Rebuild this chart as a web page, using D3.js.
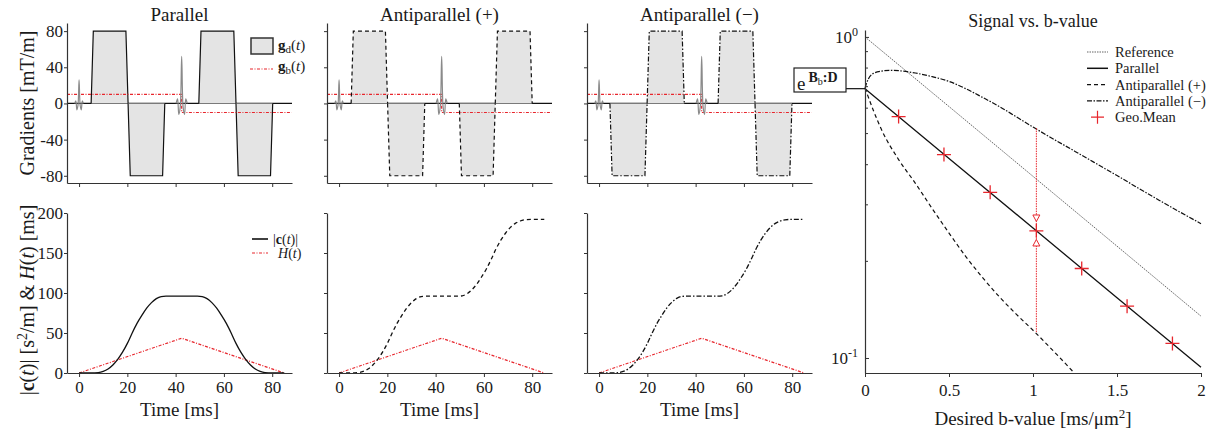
<!DOCTYPE html>
<html>
<head>
<meta charset="utf-8">
<script src="https://cdn.jsdelivr.net/npm/d3@7"></script>
<style>
body { margin: 0; background: #fff; }
text { font-family: "Liberation Serif", "Times New Roman", serif; fill: #1a1a1a; }
</style>
</head>
<body>
<svg id="fig" width="1210" height="432"></svg>
<script>
//Data: gradient waveforms-------------------------------------------------------
var panelNames = ["Parallel", "Antiparallel (+)", "Antiparallel (\u2212)"];
var lobeStarts = [[5, 20.3, 49.6, 65], [5, 20.1, 49.8, 64.7], [4.5, 19.9, 49.3, 64.6]];
var lobeEnds = [[20.3, 35.5, 65, 80.2], [20.1, 35.5, 64.7, 80], [19.9, 35.3, 64.6, 79.9]];
var lobeAmps = [[80, -80, 80, -80], [80, -80, -80, 80], [-80, 80, 80, -80]];
var rampTime = 0.9;
var gbTimes = [-5, 42.5, 42.5, 88];
var gbVals = [10, 10, -10, -10];
var rf1Times = [-1.8, -1.35, -0.9, -0.45, 0, 0.45, 0.9, 1.35, 1.8];
var rf1Vals = [0, 3, -7, -2, 26, -2, -7, 3, 0];
var rf2Times = [40.2, 40.8, 41.3, 41.9, 42.5, 43.1, 43.7, 44.2, 44.8];
var rf2Vals = [0, 5, -12, -4, 52, -4, -12, 5, 0];
var gTicks = [-80, -40, 0, 40, 80];
var tTicks = [0, 20, 40, 60, 80];

//Data: c(t) and H(t)-------------------------------------------------------------
var cTimes = [0, 5, 8, 10, 12, 14, 16, 18, 20, 22, 24, 26, 28, 30, 32, 34, 36, 42.5, 49, 51, 53, 55, 57, 59, 61, 63, 65, 67, 69, 71, 73, 75, 77, 80, 85];
var cParallel = [0, 0, 0.5, 2, 5, 10, 17, 26, 37, 50, 62, 72, 81, 88, 93, 95.5, 96, 96, 96, 95.5, 93, 88, 81, 72, 62, 50, 37, 26, 17, 10, 5, 2, 0.5, 0, 0];
var cAnti = [0, 0, 0.5, 2, 5, 10, 17, 26, 37, 50, 62, 72, 81, 88, 93, 95.5, 96, 96, 96, 96.5, 99, 104, 111, 120, 130, 142, 155, 166, 175, 182, 187, 190, 191.5, 192, 192];
var hTimes = [0, 42.5, 85];
var hVals = [0, 43.5, 0];
var cTicks = [0, 50, 100, 150, 200];

//Data: signal vs b-value---------------------------------------------------------
var bRef = [0, 0.5, 1, 1.5, 2];
var sigRef = [1, 0.607, 0.368, 0.223, 0.135];
var sigPar = [0.69, 0.418, 0.254, 0.154, 0.0935];
var bAntiPlus = [0, 0.05, 0.1, 0.2, 0.3, 0.4, 0.5, 0.6, 0.7, 0.8, 0.9, 1.0, 1.1, 1.24];
var sigAntiPlus = [0.694, 0.59, 0.512, 0.415, 0.35, 0.292, 0.245, 0.207, 0.178, 0.155, 0.137, 0.122, 0.108, 0.0905];
var bAntiMinus = [0, 0.02, 0.05, 0.1, 0.15, 0.2, 0.3, 0.4, 0.5, 0.6, 0.7, 0.8, 0.9, 1, 1.25, 1.5, 1.75, 2];
var sigAntiMinus = [0.694, 0.74, 0.77, 0.783, 0.787, 0.785, 0.772, 0.752, 0.727, 0.69, 0.648, 0.607, 0.564, 0.524, 0.44, 0.37, 0.31, 0.262];
var bGeo = [0.2, 0.47, 0.745, 1.02, 1.29, 1.56, 1.83];
var sigGeo = [0.565, 0.43, 0.328, 0.249, 0.19, 0.145, 0.111];
var arrowB = 1.02;
var arrowTop = 0.52;
var arrowBottom = 0.12;
var arrowHeads = [0.272, 0.229];
var intercept = 0.69;
var bTicks = [0, 0.5, 1, 1.5, 2];
var minorTicks = [0.2, 0.3, 0.4, 0.5, 0.6, 0.7, 0.8, 0.9];

var red = "#e8262d";
var serif = "'Liberation Serif', 'Times New Roman', serif";
var outlineDash = [null, "4,3", "5,2,1.5,2"];

var svg = d3.select("#fig");

function zip(xs, ys) {
  return xs.map(function(v, k) { return [v, ys[k]]; });
}

function styleAxis(g) {
  g.attr("font-family", serif).attr("font-size", 17);
  g.select(".domain").attr("stroke", "#333").attr("stroke-width", 1.2);
  g.selectAll(".tick line").attr("stroke", "#333").attr("stroke-width", 1);
  g.selectAll(".tick text").attr("fill", "#1a1a1a");
}

//Left panels---------------------------------------------------------------------
var panelLeft = [67, 327, 587];
var panelW = 225;

panelNames.forEach(function(name, i) {
  var x = d3.scaleLinear().domain([-5, 88.2]).range([panelLeft[i], panelLeft[i] + panelW]);
  var yg = d3.scaleLinear().domain([-88, 89]).range([183, 23]);
  var yc = d3.scaleLinear().domain([0, 200]).range([373, 213]);
  var line = d3.line().x(function(d) { return x(d[0]); }).y(function(d) { return yg(d[1]); });

  // title
  svg.append("text")
    .attr("x", panelLeft[i] + panelW / 2).attr("y", 21)
    .attr("text-anchor", "middle").style("font-size", "19px")
    .text(name);

  // zero line
  svg.append("path").attr("d", line([[-5, 0], [88.2, 0]]))
    .attr("stroke", "#111").attr("stroke-width", 1.2).attr("fill", "none");

  // gradient lobes
  lobeStarts[i].forEach(function(s, k) {
    var e = lobeEnds[i][k], a = lobeAmps[i][k];
    var pts = [[s, 0], [s + rampTime, a], [e - rampTime, a], [e, 0]];
    svg.append("path").attr("d", line(pts) + "Z")
      .attr("fill", "#e4e4e4").attr("stroke", "none");
    svg.append("path").attr("d", line(pts))
      .attr("fill", "none").attr("stroke", "#111").attr("stroke-width", 1.2)
      .attr("stroke-dasharray", outlineDash[i]);
  });

  // g_b
  svg.append("path").attr("d", line(zip(gbTimes, gbVals)))
    .attr("fill", "none").attr("stroke", red).attr("stroke-width", 1.2)
    .attr("stroke-dasharray", "3,1.5,1,1.5");

  // RF pulses
  var rfLine = d3.line().curve(d3.curveCatmullRom)
    .x(function(d) { return x(d[0]); }).y(function(d) { return yg(d[1]); });
  [zip(rf1Times, rf1Vals), zip(rf2Times, rf2Vals)].forEach(function(rf) {
    svg.append("path").attr("d", rfLine(rf))
      .attr("fill", "none").attr("stroke", "#8a8a8a").attr("stroke-width", 1.2);
  });

  // top axes
  var gy = svg.append("g").attr("transform", "translate(" + panelLeft[i] + ",0)")
    .call(d3.axisLeft(yg).tickValues(gTicks).tickSize(3).tickSizeOuter(0).tickPadding(1)
      .tickFormat(i == 0 ? function(d) { return String(d); } : ""));
  styleAxis(gy);
  var gx = svg.append("g").attr("transform", "translate(0,183)")
    .call(d3.axisBottom(x).tickValues(tTicks).tickSize(4).tickSizeOuter(0).tickFormat(""));
  styleAxis(gx);

  // c(t) and H(t)
  var hLine = d3.line().x(function(d) { return x(d[0]); }).y(function(d) { return yc(d[1]); });
  var cLine = d3.line().curve(d3.curveMonotoneX)
    .x(function(d) { return x(d[0]); }).y(function(d) { return yc(d[1]); });
  svg.append("path").attr("d", hLine(zip(hTimes, hVals)))
    .attr("fill", "none").attr("stroke", red).attr("stroke-width", 1.2)
    .attr("stroke-dasharray", "3,1.5,1,1.5");
  svg.append("path").attr("d", cLine(zip(cTimes, i == 0 ? cParallel : cAnti)))
    .attr("fill", "none").attr("stroke", "#111").attr("stroke-width", 1.3)
    .attr("stroke-dasharray", outlineDash[i]);

  var cy = svg.append("g").attr("transform", "translate(" + panelLeft[i] + ",0)")
    .call(d3.axisLeft(yc).tickValues(cTicks).tickSize(3).tickSizeOuter(0).tickPadding(1)
      .tickFormat(i == 0 ? function(d) { return String(d); } : ""));
  styleAxis(cy);
  var cx = svg.append("g").attr("transform", "translate(0,373)")
    .call(d3.axisBottom(x).tickValues(tTicks).tickSize(4).tickSizeOuter(0).tickPadding(4)
      .tickFormat(function(d) { return String(d); }));
  styleAxis(cx);

  svg.append("text")
    .attr("x", panelLeft[i] + panelW / 2).attr("y", 416)
    .attr("text-anchor", "middle").style("font-size", "19px")
    .text("Time [ms]");
});

// y labels of left column
svg.append("text")
  .attr("transform", "translate(27,103) rotate(-90)")
  .attr("text-anchor", "middle").attr("dy", "0.35em").style("font-size", "20px")
  .text("Gradients [mT/m]");

var yl = svg.append("text")
  .attr("transform", "translate(27,300) rotate(-90)")
  .attr("text-anchor", "middle").attr("dy", "0.35em").style("font-size", "20px");
yl.append("tspan").text("|");
yl.append("tspan").style("font-weight", "bold").text("c");
yl.append("tspan").text("(");
yl.append("tspan").style("font-style", "italic").text("t");
yl.append("tspan").text(")| [s");
yl.append("tspan").attr("dy", "-7").style("font-size", "14px").text("2");
yl.append("tspan").attr("dy", "7").text("/m] & ");
yl.append("tspan").style("font-style", "italic").text("H");
yl.append("tspan").text("(");
yl.append("tspan").style("font-style", "italic").text("t");
yl.append("tspan").text(") [ms]");

// legend, gradients
svg.append("rect").attr("x", 251).attr("y", 38).attr("width", 22).attr("height", 16)
  .attr("fill", "#e4e4e4").attr("stroke", "#333").attr("stroke-width", 1.5);
svg.append("line").attr("x1", 250).attr("x2", 273).attr("y1", 69).attr("y2", 69)
  .attr("stroke", red).attr("stroke-width", 1.2).attr("stroke-dasharray", "3,1.5,1,1.5");
[["d", 50], ["b", 71]].forEach(function(r) {
  var t = svg.append("text").attr("x", 278).attr("y", r[1]).style("font-size", "15px");
  t.append("tspan").style("font-weight", "bold").text("g");
  t.append("tspan").attr("dy", "3").style("font-size", "11px").text(r[0]);
  t.append("tspan").attr("dy", "-3").text("(");
  t.append("tspan").style("font-style", "italic").text("t");
  t.append("tspan").text(")");
});

// legend, c(t)
svg.append("line").attr("x1", 252).attr("x2", 268).attr("y1", 239).attr("y2", 239)
  .attr("stroke", "#111").attr("stroke-width", 1.6);
svg.append("line").attr("x1", 252).attr("x2", 268).attr("y1", 253).attr("y2", 253)
  .attr("stroke", red).attr("stroke-width", 1.2).attr("stroke-dasharray", "3,1.5,1,1.5");
var lc = svg.append("text").attr("x", 273).attr("y", 244).style("font-size", "14px");
lc.append("tspan").text("|");
lc.append("tspan").style("font-weight", "bold").text("c");
lc.append("tspan").text("(");
lc.append("tspan").style("font-style", "italic").text("t");
lc.append("tspan").text(")|");
var lh = svg.append("text").attr("x", 278).attr("y", 258).style("font-size", "14px");
lh.append("tspan").style("font-style", "italic").text("H");
lh.append("tspan").text("(");
lh.append("tspan").style("font-style", "italic").text("t");
lh.append("tspan").text(")");

//Right panel: signal vs b-value---------------------------------------------------
var bx = d3.scaleLinear().domain([0, 2]).range([865, 1201]);
var sy = d3.scaleLog().domain([0.0898, 1.051]).range([373, 30]);
var sLine = d3.line().x(function(d) { return bx(d[0]); }).y(function(d) { return sy(d[1]); });
var sCurve = d3.line().curve(d3.curveMonotoneX)
  .x(function(d) { return bx(d[0]); }).y(function(d) { return sy(d[1]); });

svg.append("text").attr("x", 1033).attr("y", 27).attr("text-anchor", "middle")
  .style("font-size", "18px").text("Signal vs. b-value");

var curves = [
  { name: "Reference", d: sLine(zip(bRef, sigRef)), color: "#666", w: 1, dash: "1.5,1" },
  { name: "Parallel", d: sLine(zip(bRef, sigPar)), color: "#111", w: 1.3, dash: null },
  { name: "Antiparallel (+)", d: sCurve(zip(bAntiPlus, sigAntiPlus)), color: "#111", w: 1.2, dash: "4,3" },
  { name: "Antiparallel (\u2212)", d: sCurve(zip(bAntiMinus, sigAntiMinus)), color: "#111", w: 1.2, dash: "5,1.5,1.5,1.5" }
];
curves.forEach(function(c) {
  svg.append("path").attr("d", c.d).attr("fill", "none")
    .attr("stroke", c.color).attr("stroke-width", c.w).attr("stroke-dasharray", c.dash);
});

// red arrow between antiparallel curves
svg.append("line").attr("x1", bx(arrowB)).attr("x2", bx(arrowB))
  .attr("y1", sy(arrowTop)).attr("y2", sy(arrowBottom))
  .attr("stroke", red).attr("stroke-width", 1).attr("stroke-dasharray", "1.5,1");
arrowHeads.forEach(function(v, k) {
  var px = bx(arrowB), py = sy(v), s = k == 0 ? 1 : -1;
  svg.append("path")
    .attr("d", "M" + (px - 3.5) + "," + (py - 3.5 * s) + "L" + (px + 3.5) + "," + (py - 3.5 * s) + "L" + px + "," + (py + 3 * s) + "Z")
    .attr("fill", "#fff").attr("stroke", red).attr("stroke-width", 1);
});

// geometric mean markers
bGeo.forEach(function(b, k) {
  var px = bx(b), py = sy(sigGeo[k]);
  svg.append("path").attr("d", "M" + (px - 7) + "," + py + "H" + (px + 7) + "M" + px + "," + (py - 7) + "V" + (py + 7))
    .attr("stroke", red).attr("stroke-width", 1.3);
});

// axes
var ay = svg.append("g").attr("transform", "translate(865,0)")
  .call(d3.axisRight(sy).tickValues([1, 0.1]).tickSize(4).tickSizeOuter(0).tickFormat(""));
styleAxis(ay);
svg.append("g").selectAll("line").data(minorTicks).enter().append("line")
  .attr("x1", 865).attr("x2", 868).attr("y1", function(d) { return sy(d); }).attr("y2", function(d) { return sy(d); })
  .attr("stroke", "#333").attr("stroke-width", 1);
[[1, "0"], [0.1, "-1"]].forEach(function(t) {
  var tt = svg.append("text").attr("x", 858).attr("y", sy(t[0]) + 6)
    .attr("text-anchor", "end").style("font-size", "17px");
  tt.append("tspan").text("10");
  tt.append("tspan").attr("dy", "-7").style("font-size", "12px").text(t[1]);
});
var ax = svg.append("g").attr("transform", "translate(0,373)")
  .call(d3.axisBottom(bx).tickValues(bTicks).tickSize(4).tickSizeOuter(0).tickPadding(7)
    .tickFormat(function(d) { return String(d); }));
styleAxis(ax);

var xl = svg.append("text").attr("x", 1033).attr("y", 425).attr("text-anchor", "middle").style("font-size", "19px");
xl.append("tspan").text("Desired b-value [ms/\u03bcm");
xl.append("tspan").attr("dy", "-7").style("font-size", "13px").text("2");
xl.append("tspan").attr("dy", "7").text("]");

// legend, right panel
curves.forEach(function(c, k) {
  var ly = 52 + k * 16.3;
  svg.append("line").attr("x1", 1087).attr("x2", 1108).attr("y1", ly).attr("y2", ly)
    .attr("stroke", c.color).attr("stroke-width", c.w + 0.2).attr("stroke-dasharray", c.dash);
  svg.append("text").attr("x", 1115).attr("y", ly + 5).style("font-size", "14.5px").text(c.name);
});
var gy5 = 52 + 4 * 16.3;
svg.append("path").attr("d", "M1091," + gy5 + "H1104M1097.5," + (gy5 - 6.5) + "V" + (gy5 + 6.5))
  .attr("stroke", red).attr("stroke-width", 1.2);
svg.append("text").attr("x", 1115).attr("y", gy5 + 5).style("font-size", "14.5px").text("Geo.Mean");

// intercept annotation
svg.append("line").attr("x1", 846).attr("x2", 865).attr("y1", sy(intercept)).attr("y2", sy(intercept))
  .attr("stroke", "#111").attr("stroke-width", 1.2);
svg.append("rect").attr("x", 794).attr("y", 68).attr("width", 52).attr("height", 24)
  .attr("fill", "#fff").attr("stroke", "#222").attr("stroke-width", 1.2);
var ann = svg.append("text").attr("x", 797).attr("y", 90).style("font-size", "19px");
ann.append("tspan").text("e");
ann.append("tspan").attr("dx", "3").attr("dy", "-8").style("font-size", "14px").style("font-weight", "bold").text("B");
ann.append("tspan").attr("dy", "3").style("font-size", "10px").text("b");
ann.append("tspan").attr("dy", "-3").style("font-size", "14px").style("font-weight", "bold").text(":D");
</script>
</body>
</html>
